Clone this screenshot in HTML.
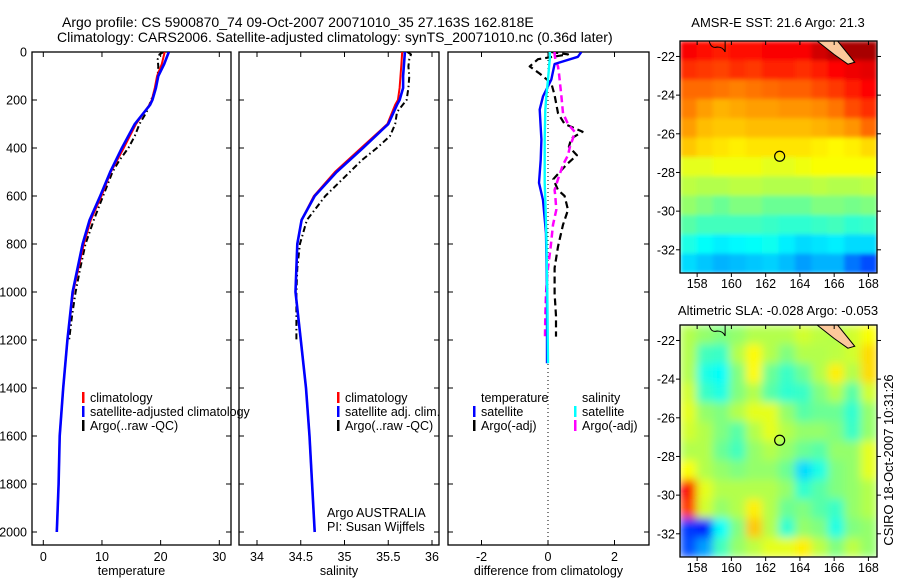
<!DOCTYPE html>
<html><head><meta charset="utf-8"><style>
body{margin:0;background:#fff;}
svg{display:block;font-family:"Liberation Sans",sans-serif;}
text{font-size:12.5px;fill:#000;}
</style></head><body>
<svg id="fig" width="900" height="580" xmlns="http://www.w3.org/2000/svg">
<defs>
<filter id="blurS" x="0" y="0" width="1" height="1"><feGaussianBlur stdDeviation="2" edgeMode="duplicate"/></filter>
<filter id="blurA" x="0" y="0" width="1" height="1"><feGaussianBlur stdDeviation="4.5" edgeMode="duplicate"/></filter>
<clipPath id="clipTop"><rect x="680" y="41" width="197" height="232"/></clipPath>
<clipPath id="clipBot"><rect x="680" y="325" width="197" height="232"/></clipPath>
<clipPath id="c1"><rect x="32" y="52" width="199" height="493"/></clipPath>
<clipPath id="c2"><rect x="239" y="52" width="200" height="493"/></clipPath>
<clipPath id="c3"><rect x="448" y="52" width="201" height="493"/></clipPath>
</defs>
<text x="62" y="27" style="font-size:14px">Argo profile: CS 5900870_74 09-Oct-2007 20071010_35 27.163S 162.818E</text>
<text x="57" y="42" style="font-size:14px">Climatology: CARS2006. Satellite-adjusted climatology: synTS_20071010.nc (0.36d later)</text>
<text x="778" y="27" text-anchor="middle" style="font-size:13px">AMSR-E SST: 21.6 Argo: 21.3</text>
<text x="778" y="315" text-anchor="middle" style="font-size:13px">Altimetric SLA: -0.028 Argo: -0.053</text>
<text transform="translate(893,460) rotate(-90)" text-anchor="middle" style="font-size:13px">CSIRO 18-Oct-2007 10:31:26</text>
<g id="plots"></g>
</svg>
<script>
// ---- profile data ----
const tDepth = [0,50,100,150,200,220,300,400,500,600,700,800,1000,1200,1400,1600,1800,2000];
const tSat   = [21.4,20.6,19.6,19.2,18.6,18.2,15.6,13.4,11.4,9.7,7.9,6.7,5.0,4.1,3.4,2.8,2.6,2.3];
const tClim  = [20.7,20.2,19.4,19.0,18.5,18.1,15.8,13.7,11.5,9.9,8.1,6.9,5.1,4.1,3.4,2.8,2.6,2.3];
const aDepth = [0,10,30,60,100,150,200,250,300,350,400,450,500,600,700,800,900,1000,1100,1200];
const tArgo  = [20.5,19.8,19.5,19.6,19.5,19.2,18.4,17.6,16.4,15.6,14.5,13.0,11.8,10.2,8.6,7.2,6.3,5.5,4.9,4.4];
const sSat   = [35.69,35.68,35.67,35.67,35.63,35.6,35.5,35.21,34.91,34.66,34.51,34.46,34.44,34.5,34.56,34.6,34.63,34.66];
const sClim  = [35.66,35.65,35.64,35.63,35.61,35.58,35.49,35.19,34.89,34.65,34.51,34.46,34.44,34.5,34.56,34.6,34.63,34.66];
const sArgo  = [35.72,35.76,35.74,35.73,35.74,35.73,35.71,35.6,35.58,35.52,35.37,35.2,35.06,34.78,34.57,34.49,34.46,34.45,34.45,34.45];
const dSatDepth = [0,20,50,115,185,240,365,450,545,617,755,1000,1297];
const dTsat = [1.0,0.9,0.2,0.1,-0.15,-0.25,-0.2,-0.22,-0.27,-0.15,-0.06,-0.03,-0.03];
const dSsat = [0.05,0.06,0.04,0.0,-0.05,-0.08,-0.1,-0.1,-0.1,-0.08,-0.05,-0.02,0];
const dArgoDepth = [0,10,30,60,90,130,180,255,300,332,360,395,430,470,530,575,600,658,720,811,900,1006,1100,1186];
const dTargo = [0.1,0.6,-0.3,-0.55,-0.25,0.1,0.2,0.3,0.5,1.04,0.7,0.63,0.87,0.55,0.16,0.3,0.5,0.6,0.45,0.3,0.2,0.2,0.24,0.24];
const dSargo = [0.2,0.2,0.22,0.3,0.33,0.36,0.4,0.45,0.6,0.8,0.75,0.66,0.6,0.45,0.3,0.2,0.22,0.25,0.15,0.08,0.0,-0.06,-0.08,-0.09];
const depthTicks = [0,200,400,600,800,1000,1200,1400,1600,1800,2000];
const tTicks = [0,10,20,30];
const sTicks = [34,34.5,35,35.5,36];
const dTicks = [-2,0,2];
// ---- map data (jet colormap index 0..1), rows north->south, cols west->east ----
const sstGrid = [
[0.88,0.86,0.85,0.86,0.86,0.88,0.88,0.88,0.92,0.95,0.96,0.96],
[0.83,0.82,0.81,0.83,0.82,0.84,0.84,0.83,0.85,0.87,0.89,0.90],
[0.77,0.77,0.76,0.75,0.76,0.77,0.78,0.78,0.80,0.82,0.85,0.87],
[0.75,0.72,0.70,0.71,0.72,0.72,0.73,0.73,0.74,0.76,0.80,0.83],
[0.72,0.69,0.68,0.68,0.69,0.69,0.69,0.69,0.70,0.71,0.73,0.77],
[0.68,0.66,0.65,0.64,0.65,0.65,0.65,0.65,0.64,0.63,0.64,0.66],
[0.60,0.60,0.61,0.61,0.61,0.60,0.60,0.61,0.62,0.62,0.62,0.62],
[0.56,0.55,0.55,0.56,0.56,0.55,0.55,0.55,0.56,0.55,0.55,0.56],
[0.52,0.50,0.48,0.50,0.50,0.48,0.48,0.48,0.50,0.50,0.49,0.50],
[0.46,0.44,0.44,0.44,0.44,0.43,0.42,0.42,0.43,0.44,0.42,0.43],
[0.40,0.38,0.36,0.37,0.38,0.39,0.36,0.34,0.35,0.36,0.34,0.34],
[0.34,0.32,0.30,0.31,0.32,0.33,0.31,0.28,0.30,0.30,0.24,0.20]];
const slaGrid = [
[.55,.52,.50,.52,.55,.55,.55,.58,.56,.55,.58,.62],
[.55,.44,.43,.55,.63,.55,.50,.55,.55,.56,.58,.66],
[.55,.40,.38,.50,.63,.48,.43,.48,.55,.64,.55,.66],
[.58,.43,.40,.50,.55,.46,.42,.43,.50,.55,.46,.58],
[.60,.52,.50,.55,.60,.60,.52,.46,.48,.48,.42,.52],
[.58,.55,.50,.46,.55,.60,.55,.52,.52,.50,.43,.52],
[.55,.55,.48,.44,.52,.55,.52,.48,.46,.52,.52,.60],
[.62,.55,.52,.50,.52,.52,.48,.34,.40,.50,.52,.60],
[.88,.60,.55,.55,.55,.55,.52,.42,.46,.50,.52,.55],
[.82,.58,.52,.55,.64,.55,.48,.50,.46,.43,.52,.55],
[.18,.15,.38,.50,.68,.55,.42,.52,.50,.40,.50,.52],
[.20,.28,.44,.52,.56,.60,.60,.64,.56,.50,.56,.52]];
const latTicks = [-22,-24,-26,-28,-30,-32];
const lonTicks = [158,160,162,164,166,168];
const argoLon = 162.818, argoLat = -27.163;

const NS='http://www.w3.org/2000/svg';
const root=document.getElementById('plots');
function el(tag,attrs,parent){const e=document.createElementNS(NS,tag);for(const k in attrs)e.setAttribute(k,attrs[k]);(parent||root).appendChild(e);return e;}
function txt(x,y,s,anchor,parent){const t=el('text',{x:x,y:y,'text-anchor':anchor||'start'},parent);t.textContent=s;return t;}

const Y0=52,Y1=545, DMAX=(545-52)/48*200;
const yD=d=>Y0+d/DMAX*(Y1-Y0);
function lin(d0,d1,p0,p1){return v=>p0+(v-d0)/(d1-d0)*(p1-p0);}

const panels=[
 {name:'temperature-panel',x0:32,x1:231,xs:lin(0,30,43.3,219.3),ticks:tTicks,label:'temperature',clip:'c1'},
 {name:'salinity-panel',x0:239,x1:439,xs:lin(34,36,257,432),ticks:sTicks,label:'salinity',clip:'c2'},
 {name:'difference-panel',x0:448,x1:649,xs:lin(-2,2,481.5,614.5),ticks:dTicks,label:'difference from climatology',clip:'c3'}];

panels.forEach((p,i)=>{
  const g=el('g',{});
  
  
  const r=el('rect',{x:p.x0,y:Y0,width:p.x1-p.x0,height:Y1-Y0,fill:'none',stroke:'#000','stroke-width':1.3},g);
  
  
  depthTicks.forEach(d=>{
    const y=yD(d);
    el('line',{x1:p.x0,x2:p.x0+5,y1:y,y2:y,stroke:'#000'},g);
    el('line',{x1:p.x1-5,x2:p.x1,y1:y,y2:y,stroke:'#000'},g);
    if(i===0){const t=txt(27,y+4.5,String(d),'end',g);
      
      }
  });
  p.ticks.forEach(v=>{
    const x=p.xs(v);
    el('line',{x1:x,x2:x,y1:Y0,y2:Y0+5,stroke:'#000'},g);
    el('line',{x1:x,x2:x,y1:Y1-5,y2:Y1,stroke:'#000'},g);
    const t=txt(x,561,String(v),'middle',g);
    
    
  });
  const xl=txt((p.x0+p.x1)/2,575,p.label,'middle',g);
  
  
});

function series(p,xs,ds,color,w,dash,name){
  const pts=xs.map((v,k)=>p.xs(v).toFixed(1)+','+yD(ds[k]).toFixed(1)).join(' ');
  const l=el('polyline',{points:pts,fill:'none',stroke:color,'stroke-width':w,'stroke-dasharray':dash||'none','clip-path':'url(#'+p.clip+')','stroke-linejoin':'round'});
  
  
}
const DD='6,3,1.5,3';
series(panels[0],tArgo,aDepth,'#000',2,DD,'temp-argo-line');
series(panels[0],tClim,tDepth,'#f00',2,null,'temp-climatology-line');
series(panels[0],tSat,tDepth,'#00f',2.6,null,'temp-satellite-line');
series(panels[1],sArgo,aDepth,'#000',2,DD,'sal-argo-line');
series(panels[1],sClim,tDepth,'#f00',2,null,'sal-climatology-line');
series(panels[1],sSat,tDepth,'#00f',2.6,null,'sal-satellite-line');
const zl=el('line',{x1:panels[2].xs(0),x2:panels[2].xs(0),y1:Y0,y2:Y1,stroke:'#000','stroke-dasharray':'1,3'});


series(panels[2],dTargo,dArgoDepth,'#000',2.2,'7,4','temp-argo-diff-line');
series(panels[2],dSargo,dArgoDepth,'#f0f',2.5,'7,4','sal-argo-diff-line');
series(panels[2],dTsat,dSatDepth,'#00f',2.4,null,'temp-satellite-diff-line');
series(panels[2],dSsat,dSatDepth,'#0ff',2.4,null,'sal-satellite-diff-line');

function legend(x,y,items,name){
  const g=el('g',{});
  
  
  items.forEach((it,k)=>{
    const yy=y+k*14;
    if(it[1]){el('rect',{x:x,y:yy-10,width:2.5,height:11,fill:it[1]},g);}
    const t=txt(x+8,yy,it[0],'start',g);
    
    
  });
}
legend(82,402,[['climatology','#f00'],['satellite-adjusted climatology','#00f'],['Argo(..raw -QC)','#000']],'temp-legend');
legend(337,402,[['climatology','#f00'],['satellite adj. clim.','#00f'],['Argo(..raw -QC)','#000']],'sal-legend');
legend(473,402,[['temperature',null],['satellite','#00f'],['Argo(-adj)','#000']],'temp-diff-legend');
legend(574,402,[['salinity',null],['satellite','#0ff'],['Argo(-adj)','#f0f']],'sal-diff-legend');
const a1=txt(327,517,'Argo AUSTRALIA');
const a2=txt(327,531,'PI: Susan Wijffels');

// ---- maps ----
function jet(v){v=Math.max(0,Math.min(1,v));
  const r=Math.max(0,Math.min(1,1.5-Math.abs(4*v-3))),g=Math.max(0,Math.min(1,1.5-Math.abs(4*v-2))),b=Math.max(0,Math.min(1,1.5-Math.abs(4*v-1)));
  return 'rgb('+Math.round(r*255)+','+Math.round(g*255)+','+Math.round(b*255)+')';}
function drawMap(top,grid,blur,clip,name){
  const X0=680,X1=877,Yt=top,Yb=top+232;
  const lx=lin(157,168.5,X0,X1), ly=lin(-21.2,-33.2,Yt,Yb);
  const g=el('g',{});
  
  
  const cg=el('g',{'clip-path':'url(#'+clip+')'},g);
  const hg=el('g',{filter:'url(#'+blur+')'},cg);
  const nr=grid.length,nc=grid[0].length;
  grid.forEach((row,r)=>row.forEach((v,c)=>{
    const lo0=157+c*(11.5/nc), la0=-21.2-r*(12/nr);
    const x=lx(lo0),y=ly(la0),w=lx(lo0+11.5/nc)-x+0.5,h=ly(la0-12/nr)-y+0.5;
    const cell=el('rect',{x:x,y:y,width:w,height:h,fill:jet(v)},hg);
    
    
  }));
  const isl=el('polygon',{points:[[165,-21.2],[166.2,-21.2],[167.2,-22.3],[166.8,-22.4],[166,-21.9]].map(q=>lx(q[0])+','+ly(q[1])).join(' '),fill:'#fcc89b',stroke:'#000','stroke-width':1},cg);
  
  
  el('path',{d:'M'+lx(158.7)+','+Yt+' q2,8 8,6 q6,0 8,5 l0,-11',fill:'none',stroke:'#000','stroke-width':1},cg);
  const c=el('circle',{cx:lx(argoLon),cy:ly(argoLat),r:5,fill:'none',stroke:'#000','stroke-width':1.2},g);
  
  
  el('rect',{x:X0,y:Yt,width:X1-X0,height:Yb-Yt,fill:'none',stroke:'#000','stroke-width':1.3},g);
  latTicks.forEach(la=>{const y=ly(la);
    el('line',{x1:X0-4,x2:X0,y1:y,y2:y,stroke:'#000'},g);
    el('line',{x1:X1,x2:X1+4,y1:y,y2:y,stroke:'#000'},g);
    const t=txt(X0-5,y+4.5,String(la),'end',g);
    
    });
  lonTicks.forEach(lo=>{const x=lx(lo);
    el('line',{x1:x,x2:x,y1:Yt,y2:Yt+4,stroke:'#000'},g);
    el('line',{x1:x,x2:x,y1:Yb,y2:Yb+4,stroke:'#000'},g);
    const t=txt(x,Yb+15,String(lo),'middle',g);
    
    });
}
drawMap(41,sstGrid,'blurS','clipTop','sst-map');
drawMap(325,slaGrid,'blurA','clipBot','sla-map');
</script>
</body></html>
